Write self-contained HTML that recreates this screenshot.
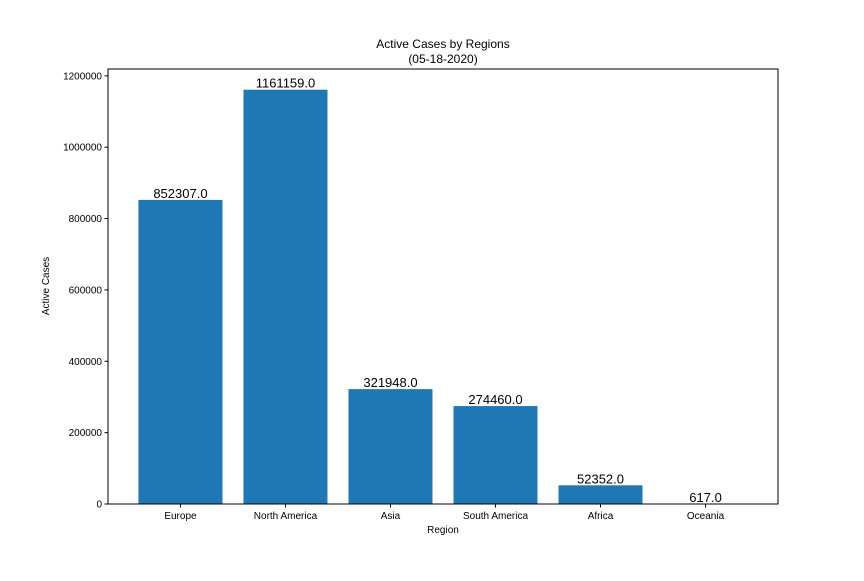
<!DOCTYPE html>
<html><head><meta charset="utf-8"><style>
html,body{margin:0;padding:0;background:#fff;}
svg text{font-family:"Liberation Sans","DejaVu Sans",sans-serif;}
</style></head><body>
<svg id="chart" width="864" height="576" xmlns="http://www.w3.org/2000/svg">
<rect width="864" height="576" fill="#fff"/>
<text x="443" y="48" font-size="12" text-anchor="middle">Active Cases by Regions</text>
<text x="443" y="63" font-size="12" text-anchor="middle">(05-18-2020)</text>
<g id="bars"></g>
<g id="xticks"></g>
<g id="yticks"></g>
<rect x="108" y="69" width="670" height="435" fill="none" stroke="#000" stroke-width="1"/>
<text x="443" y="533" font-size="10" text-anchor="middle">Region</text>
<text x="49" y="286" font-size="10" text-anchor="middle" transform="rotate(-90 49 286)">Active Cases</text>
</svg>
<script>
const categories=["Europe","North America","Asia","South America","Africa","Oceania"];
const values=[852307,1161159,321948,274460,52352,617];
const yTicks=[0,200000,400000,600000,800000,1000000,1200000];
const L=108,R=778,T=69,B=504;
const ymax=Math.max(...values)*1.05;
const xmin=-0.4-0.05*(categories.length-0.2), xmax=categories.length-0.6+0.05*(categories.length-0.2);
const xs=i=>L+(i-xmin)/(xmax-xmin)*(R-L);
const ys=v=>B-v/ymax*(B-T);
const NS="http://www.w3.org/2000/svg";
const bars=document.getElementById('bars'),xt=document.getElementById('xticks'),yt=document.getElementById('yticks');
const bw=0.8*(R-L)/(xmax-xmin);
values.forEach((v,i)=>{
 const r=document.createElementNS(NS,'rect');
 r.setAttribute('x',xs(i)-bw/2);r.setAttribute('y',ys(v));r.setAttribute('width',bw);r.setAttribute('height',B-ys(v));r.setAttribute('fill','#1f77b4');
 
 
 bars.appendChild(r);
 const t=document.createElementNS(NS,'text');
 t.setAttribute('x',xs(i));t.setAttribute('y',ys(v)-2);t.setAttribute('font-size','13');t.setAttribute('text-anchor','middle');
 t.textContent=v.toFixed(1);
 
 
 bars.appendChild(t);
 const tk=document.createElementNS(NS,'line');
 tk.setAttribute('x1',xs(i));tk.setAttribute('x2',xs(i));tk.setAttribute('y1',B);tk.setAttribute('y2',B+3.5);tk.setAttribute('stroke','#000');
 
 
 xt.appendChild(tk);
 const lb=document.createElementNS(NS,'text');
 lb.setAttribute('x',xs(i));lb.setAttribute('y',B+15);lb.setAttribute('font-size','10');lb.setAttribute('text-anchor','middle');
 lb.textContent=categories[i];
 
 
 xt.appendChild(lb);
});
yTicks.forEach(v=>{
 const tk=document.createElementNS(NS,'line');
 tk.setAttribute('x1',L-3.5);tk.setAttribute('x2',L);tk.setAttribute('y1',ys(v));tk.setAttribute('y2',ys(v));tk.setAttribute('stroke','#000');
 
 
 yt.appendChild(tk);
 const lb=document.createElementNS(NS,'text');
 lb.setAttribute('x',L-6);lb.setAttribute('y',ys(v)+3.5);lb.setAttribute('font-size','10');lb.setAttribute('text-anchor','end');
 lb.textContent=String(v);
 
 
 yt.appendChild(lb);
});
</script>
</body></html>
